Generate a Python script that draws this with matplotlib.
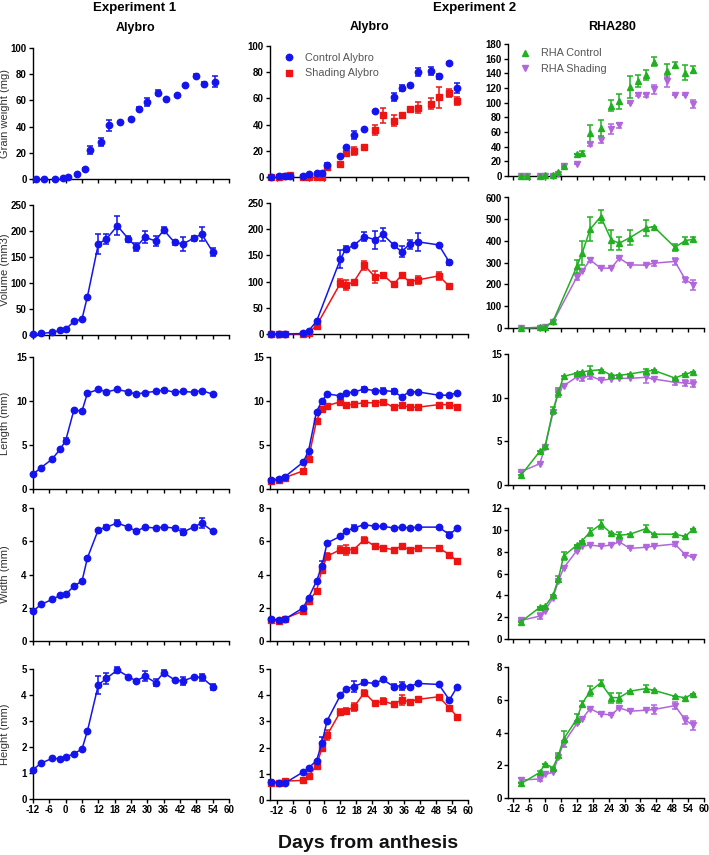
import numpy as np
import matplotlib.pyplot as plt
from matplotlib.lines import Line2D

plt.rcParams['font.family'] = ['Liberation Sans', 'DejaVu Sans']
plt.rcParams['axes.unicode_minus'] = False

nan = np.nan

# ---------------- Experiment 1, Alybro ----------------
e1_days = [-12, -9, -5, -2, 0, 3, 6, 8, 12, 15, 19, 23, 26, 29, 33, 36, 40, 43, 47, 50, 54]
e1_days_weight = [-11, -8, -4, -1, 1, 4, 7, 9, 13, 16, 20, 24, 27, 30, 34, 37, 41, 44, 48, 51, 55]

e1_weight = [0, 0, 0.3, 0.8, 1.2, 3.5, 8, 22, 28.5, 41, 43.3, 45.8, 53.7, 58.8, 66, 61.3, 64, 71.8, 79, 72.8, 74.3]
e1_weight_err = [0, 0, 0, 0, 0, 0, 0.5, 3, 3, 4, 0, 0, 1, 3, 2, 0, 0, 0, 1, 1, 4]
e1_volume = [1, 3, 5, 9, 11, 26, 31, 74, 175, 185, 210, 185, 169, 188, 181, 202, 178, 175, 186, 194, 160]
e1_volume_err = [0, 0, 0, 0, 0, 0, 0, 0, 20, 10, 18, 6, 7, 12, 10, 6, 4, 13, 5, 14, 8]
e1_length = [1.67, 2.44, 3.39, 4.53, 5.5, 8.95, 8.87, 10.89, 11.31, 11.04, 11.31, 11.04, 10.77, 10.96,
             11.08, 11.27, 11.0, 11.08, 11.0, 11.19, 10.77]
e1_length_err = [0, 0, 0, 0, 0.25, 0, 0, 0, 0.1, 0, 0.1, 0, 0, 0, 0, 0.1, 0, 0, 0, 0.1, 0]
e1_width = [1.8, 2.2, 2.5, 2.75, 2.8, 3.3, 3.6, 5.0, 6.7, 6.85, 7.1, 6.85, 6.6, 6.85, 6.8, 6.85, 6.8, 6.55,
            6.85, 7.1, 6.6]
e1_width_err = [0, 0, 0, 0, 0, 0, 0, 0, 0, 0.1, 0.15, 0, 0, 0, 0, 0, 0, 0.2, 0, 0.3, 0]
e1_height = [1.13, 1.38, 1.56, 1.55, 1.61, 1.74, 1.92, 2.62, 4.39, 4.64, 4.96, 4.71, 4.53, 4.73, 4.48,
             4.86, 4.58, 4.54, 4.69, 4.68, 4.32]
e1_height_err = [0, 0, 0, 0, 0, 0, 0, 0, 0.35, 0.2, 0.1, 0, 0, 0.2, 0.12, 0.1, 0, 0.17, 0, 0.13, 0.12]

# ---------------- Experiment 2, Alybro ----------------
e2_days = [-14, -11, -9, -2, 0, 3, 5, 7, 12, 14, 17, 21, 25, 28, 32, 35, 38, 41, 49, 53, 56]
e2_days_weight = [-14, -11, -9, -7, -2, 0, 3, 5, 7, 12, 14, 17, 21, 25, 28, 32, 35, 38, 41, 46, 49, 53, 56]
e2_days_volume = [-14, -11, -9, -2, 0, 3, 12, 14, 17, 21, 25, 28, 32, 35, 38, 41, 49, 53]

ctrl_weight = [0, 0.5, 1, 1, 1, 2, 3, 3, 9.4, 16, 23, 32, 37, 50, nan, 61, 68, 70, 80, 81, 77, 87, 68]
ctrl_weight_err = [0, 0, 0, 0, 0, 0, 0, 0, 1, 0, 0, 3, 0, 0, 0, 3, 2, 0, 3, 3, 2, 1, 4]
shad_weight = [0, 0, 0.5, 1.3, 0, 0, 0, 0, 8, 10, 18, 20, 23, 36, 47, 43, 47, 52, 53, 56, 61, 64, 58]
shad_weight_err = [0, 0, 0, 0, 0, 0, 0, 0, 0, 0, 1, 3, 0, 4, 6, 4, 2, 0, 4, 4, 8, 3, 3]

ctrl_volume = [0, 0, 0, 1, 6, 24, 143, 162, 169, 186, 180, 190, 170, 157, 171, 176, 170, 137]
ctrl_volume_err = [0, 0, 0, 0, 0, 0, 18, 5, 0, 8, 17, 12, 0, 10, 8, 17, 0, 5]
shad_volume = [0, 0, 0, 0, 2, 16, 97, 94, 99, 131, 109, 113, 95, 112, 100, 103, 111, 91]
shad_volume_err = [0, 0, 0, 0, 0, 0, 8, 10, 0, 8, 12, 0, 0, 0, 0, 8, 8, 0]

ctrl_length = [1.0, 1.14, 1.37, 3.05, 4.34, 8.8, 9.97, 10.81, 10.58, 10.89, 11.04, 11.34, 11.19, 11.19,
               11.08, 10.5, 11.04, 11.04, 10.66, 10.66, 10.96]
ctrl_length_err = [0, 0, 0, 0, 0, 0, 0, 0, 0, 0, 0, 0.3, 0, 0.3, 0.3, 0, 0, 0, 0, 0, 0]
shad_length = [0.91, 1.07, 1.29, 2.06, 3.46, 7.77, 9.06, 9.48, 9.9, 9.52, 9.63, 9.82, 9.78, 9.9, 9.29,
               9.55, 9.29, 9.29, 9.59, 9.59, 9.33]
shad_length_err = [0, 0, 0, 0, 0.3, 0, 0, 0, 0, 0, 0, 0, 0, 0, 0, 0, 0, 0, 0, 0, 0]

ctrl_width = [1.3, 1.25, 1.3, 2.0, 2.6, 3.6, 4.5, 5.9, 6.3, 6.6, 6.8, 7.0, 6.9, 6.9, 6.8, 6.85, 6.8, 6.85,
              6.85, 6.4, 6.8]
ctrl_width_err = [0, 0, 0, 0, 0, 0, 0.3, 0, 0, 0, 0.15, 0, 0, 0, 0, 0, 0, 0, 0, 0.15, 0]
shad_width = [1.25, 1.2, 1.35, 1.8, 2.4, 3.0, 4.3, 5.1, 5.5, 5.5, 5.5, 6.1, 5.7, 5.6, 5.5, 5.7, 5.5, 5.6,
              5.6, 5.2, 4.8]
shad_width_err = [0, 0, 0, 0, 0, 0, 0.2, 0.2, 0.2, 0.3, 0, 0.15, 0.15, 0, 0, 0.15, 0, 0, 0, 0, 0]

ctrl_height = [0.70, 0.66, 0.64, 1.07, 1.22, 1.50, 2.16, 3.03, 4.0, 4.24, 4.33, 4.49, 4.45, 4.6, 4.33,
               4.36, 4.33, 4.45, 4.41, 3.82, 4.33]
ctrl_height_err = [0.05, 0, 0, 0, 0, 0, 0.25, 0, 0, 0, 0.2, 0.1, 0, 0, 0.08, 0.15, 0, 0.05, 0, 0.08, 0]
shad_height = [0.64, 0.66, 0.72, 0.75, 0.92, 1.30, 1.97, 2.48, 3.37, 3.4, 3.54, 4.1, 3.69, 3.78, 3.65,
               3.82, 3.75, 3.84, 3.94, 3.52, 3.17]
shad_height_err = [0, 0, 0, 0, 0, 0, 0.1, 0.2, 0.12, 0.1, 0.15, 0.1, 0, 0.1, 0, 0.2, 0, 0, 0, 0, 0]

# ---------------- Experiment 2, RHA280 ----------------
rha_days = [-9, -2, 0, 3, 5, 7, 12, 14, 17, 21, 25, 28, 32, 38, 41, 49, 53, 56]
rha_days_weight = [-9, -7, -2, 0, 3, 5, 7, 12, 14, 17, 21, 25, 28, 32, 35, 38, 41, 46, 49, 53, 56]
rha_days_volume = [-9, -2, 0, 3, 12, 14, 17, 21, 25, 28, 32, 38, 41, 49, 53, 56]

rctl_weight = [0, 0, 0.5, 1, 1.4, 5, 14, 30, 32, 58, 65, 96, 102, 121, 130, 138, 156, 143, 151, 141, 145]
rctl_weight_err = [0, 0, 0, 0, 0, 0, 2, 0, 2, 11, 11, 8, 10, 15, 8, 7, 6, 10, 4, 10, 5]
rshd_weight = [0, 0, 0, 0, 0, 3, 13, 17, nan, 43, 49, 64, 69, 100, 111, 110, 118, 129, 111, 110, 98]
rshd_weight_err = [0, 0, 0, 0, 0, 0, 0, 0, 0, 2, 4, 7, 3, 0, 2, 2, 6, 7, 0, 0, 5]

rctl_volume = [0, 3, 5, 31, 283, 344, 454, 512, 405, 390, 415, 460, 466, 371, 402, 408]
rctl_volume_err = [0, 0, 0, 0, 30, 55, 55, 30, 45, 30, 35, 35, 0, 15, 18, 12]
rshd_volume = [0, 2, 3, 28, 234, 260, 313, 275, 275, 321, 290, 289, 298, 306, 222, 199]
rshd_volume_err = [0, 0, 0, 0, 15, 0, 8, 0, 0, 0, 0, 0, 12, 15, 12, 22]

rctl_length = [1.15, 3.85, 4.43, 8.55, 10.6, 12.44, 12.82, 12.94, 13.09, 13.2, 12.56, 12.56, 12.71, 13.02,
               13.13, 12.25, 12.71, 12.94]
rctl_length_err = [0, 0, 0, 0.4, 0.5, 0, 0, 0, 0.5, 0, 0, 0, 0, 0.3, 0, 0, 0, 0]
rshd_length = [1.53, 2.44, 4.35, 8.32, 10.6, 11.37, 12.37, 12.25, 12.52, 11.98, 12.14, 12.21, 12.21,
               12.33, 12.14, 11.76, 11.68, 11.6]
rshd_length_err = [0, 0, 0, 0, 0, 0, 0, 0.3, 0.4, 0, 0, 0, 0, 0.6, 0, 0.3, 0.4, 0.4]

rctl_width = [1.6, 2.9, 3.0, 4.0, 5.5, 7.6, 8.6, 9.0, 9.8, 10.5, 9.7, 9.5, 9.6, 10.1, 9.6, 9.6, 9.4, 10.1]
rctl_width_err = [0, 0, 0, 0, 0.3, 0.4, 0, 0, 0.4, 0.4, 0, 0.3, 0, 0.3, 0, 0, 0, 0]
rshd_width = [1.7, 2.1, 2.6, 3.8, 5.3, 6.5, 8.1, 8.5, 8.6, 8.5, 8.6, 8.9, 8.3, 8.4, 8.5, 8.7, 7.7, 7.5]
rshd_width_err = [0, 0.3, 0, 0, 0, 0, 0, 0, 0, 0, 0, 0, 0, 0, 0, 0.2, 0, 0]

rctl_height = [0.89, 1.56, 2.09, 1.85, 2.6, 3.6, 4.83, 5.77, 6.52, 7.03, 6.13, 6.13, 6.52, 6.68, 6.58,
               6.21, 6.13, 6.38]
rctl_height_err = [0, 0.1, 0, 0, 0.15, 0.5, 0.3, 0.15, 0.3, 0.15, 0.3, 0.3, 0, 0.2, 0, 0, 0, 0]
rshd_height = [1.1, 1.16, 1.46, 1.56, 2.5, 3.35, 4.55, 4.83, 5.46, 5.13, 5.08, 5.5, 5.3, 5.36, 5.4, 5.64,
               4.75, 4.43]
rshd_height_err = [0.1, 0.15, 0, 0, 0, 0, 0, 0, 0, 0, 0, 0, 0, 0, 0.3, 0.2, 0.25, 0.25]

row_labels = ["Grain weight (mg)", "Volume (mm3)", "Length (mm)", "Width (mm)", "Height (mm)"]
x_ticks = list(range(-12, 61, 6))

BLUE, RED, GREEN, PURPLE = '#1414ee', '#ee1414', '#22b022', '#b266dd'

W, H = 709, 855
fig = plt.figure(figsize=(W / 100, H / 100), dpi=100)

col_x = [(33, 229, -12), (270, 468, -14.5), (508, 704, -14)]
panel_tb = {
    (0, 0): (48, 179), (1, 0): (46, 177), (2, 0): (44, 176),
    (0, 1): (205, 335), (1, 1): (203, 334), (2, 1): (197.5, 328),
    (0, 2): (357, 489), (1, 2): (357, 489), (2, 2): (354, 485),
    (0, 3): (508, 641), (1, 3): (508, 641), (2, 3): (508, 639),
    (0, 4): (669, 799), (1, 4): (669, 800), (2, 4): (667, 798),
}
ylims = {0: [(100, 20), (250, 50), (15, 5), (8, 2), (5, 1)],
         1: [(100, 20), (250, 50), (15, 5), (8, 2), (5, 1)],
         2: [(180, 20), (600, 100), (15, 5), (12, 2), (8, 2)]}

# (days, values, errors, colour, marker) per panel
series = {
    (0, 0): [(e1_days_weight, e1_weight, e1_weight_err, BLUE, 'o')],
    (0, 1): [(e1_days, e1_volume, e1_volume_err, BLUE, 'o')],
    (0, 2): [(e1_days, e1_length, e1_length_err, BLUE, 'o')],
    (0, 3): [(e1_days, e1_width, e1_width_err, BLUE, 'o')],
    (0, 4): [(e1_days, e1_height, e1_height_err, BLUE, 'o')],
    (1, 0): [(e2_days_weight, shad_weight, shad_weight_err, RED, 's'),
             (e2_days_weight, ctrl_weight, ctrl_weight_err, BLUE, 'o')],
    (1, 1): [(e2_days_volume, shad_volume, shad_volume_err, RED, 's'),
             (e2_days_volume, ctrl_volume, ctrl_volume_err, BLUE, 'o')],
    (1, 2): [(e2_days, shad_length, shad_length_err, RED, 's'),
             (e2_days, ctrl_length, ctrl_length_err, BLUE, 'o')],
    (1, 3): [(e2_days, shad_width, shad_width_err, RED, 's'),
             (e2_days, ctrl_width, ctrl_width_err, BLUE, 'o')],
    (1, 4): [(e2_days, shad_height, shad_height_err, RED, 's'),
             (e2_days, ctrl_height, ctrl_height_err, BLUE, 'o')],
    (2, 0): [(rha_days_weight, rshd_weight, rshd_weight_err, PURPLE, 'v'),
             (rha_days_weight, rctl_weight, rctl_weight_err, GREEN, '^')],
    (2, 1): [(rha_days_volume, rshd_volume, rshd_volume_err, PURPLE, 'v'),
             (rha_days_volume, rctl_volume, rctl_volume_err, GREEN, '^')],
    (2, 2): [(rha_days, rshd_length, rshd_length_err, PURPLE, 'v'),
             (rha_days, rctl_length, rctl_length_err, GREEN, '^')],
    (2, 3): [(rha_days, rshd_width, rshd_width_err, PURPLE, 'v'),
             (rha_days, rctl_width, rctl_width_err, GREEN, '^')],
    (2, 4): [(rha_days, rshd_height, rshd_height_err, PURPLE, 'v'),
             (rha_days, rctl_height, rctl_height_err, GREEN, '^')],
}

msize = {'o': 4.6, 's': 4.2, '^': 4.6, 'v': 4.6}

axes = {}
for (c, r), (top, bot) in panel_tb.items():
    left, right, x0 = col_x[c]
    ax = fig.add_axes([left / W, 1 - bot / H, (right - left) / W, (bot - top) / H])
    axes[(c, r)] = ax
    for days, vals, errs, colour, mk in series[(c, r)]:
        ls = 'none' if r == 0 else '-'
        ax.errorbar(days, vals, yerr=errs, color=colour, marker=mk, ms=msize[mk], mec=colour,
                    linestyle=ls, lw=1.1, elinewidth=1.1, capsize=2, capthick=1.1, clip_on=False, zorder=3)
    ymax, ystep = ylims[c][r]
    ax.set_ylim(0, ymax)
    ax.set_yticks(np.arange(0, ymax + 0.01, ystep))
    ax.set_xlim(x0, 60)
    ax.set_xticks(x_ticks)
    if r < 4:
        ax.set_xticklabels([])
    for s in ['top', 'right']:
        ax.spines[s].set_visible(False)
    for s in ['left', 'bottom']:
        ax.spines[s].set_linewidth(1.0)
    ax.tick_params(direction='out', length=3, width=1.0, labelsize=7, pad=1.5)
    for lab in ax.get_xticklabels() + ax.get_yticklabels():
        lab.set_fontweight('bold')
    if c == 0:
        ax.set_ylabel(row_labels[r], fontsize=8, color='#333333')
        ax.yaxis.set_label_coords(-0.118, 0.5)

# legends
h_ctrl = Line2D([], [], color=BLUE, marker='o', ms=4.6, linestyle='none')
h_shad = Line2D([], [], color=RED, marker='s', ms=4.2, linestyle='none')
axes[(1, 0)].legend([h_ctrl, h_shad], ["Control Alybro", "Shading Alybro"], loc='upper left',
                    bbox_to_anchor=(0.04, 0.98), frameon=False, fontsize=7.8, handlelength=1.2,
                    handletextpad=0.9, labelspacing=0.5, labelcolor='#555555', borderaxespad=0)
h_rc = Line2D([], [], color=GREEN, marker='^', ms=4.6, linestyle='none')
h_rs = Line2D([], [], color=PURPLE, marker='v', ms=4.6, linestyle='none')
axes[(2, 0)].legend([h_rc, h_rs], ["RHA Control", "RHA Shading"], loc='upper left',
                    bbox_to_anchor=(0.03, 1.0), frameon=False, fontsize=7.8, handlelength=1.2,
                    handletextpad=0.9, labelspacing=0.5, labelcolor='#555555', borderaxespad=0)

# titles
fig.text(135 / W, 1 - 8 / H, "Experiment 1", ha='center', va='center', fontsize=9.5, fontweight='bold')
fig.text(475 / W, 1 - 8 / H, "Experiment 2", ha='center', va='center', fontsize=9.5, fontweight='bold')
fig.text(135 / W, 1 - 28 / H, "Alybro", ha='center', va='center', fontsize=9, fontweight='bold')
fig.text(370 / W, 1 - 27 / H, "Alybro", ha='center', va='center', fontsize=9, fontweight='bold')
fig.text(612 / W, 1 - 27 / H, "RHA280", ha='center', va='center', fontsize=9, fontweight='bold')
fig.text(368 / W, 1 - 843 / H, "Days from anthesis", ha='center', va='center', fontsize=14,
         fontweight='bold', color='#111111')

fig.savefig("out.png", dpi=100)
